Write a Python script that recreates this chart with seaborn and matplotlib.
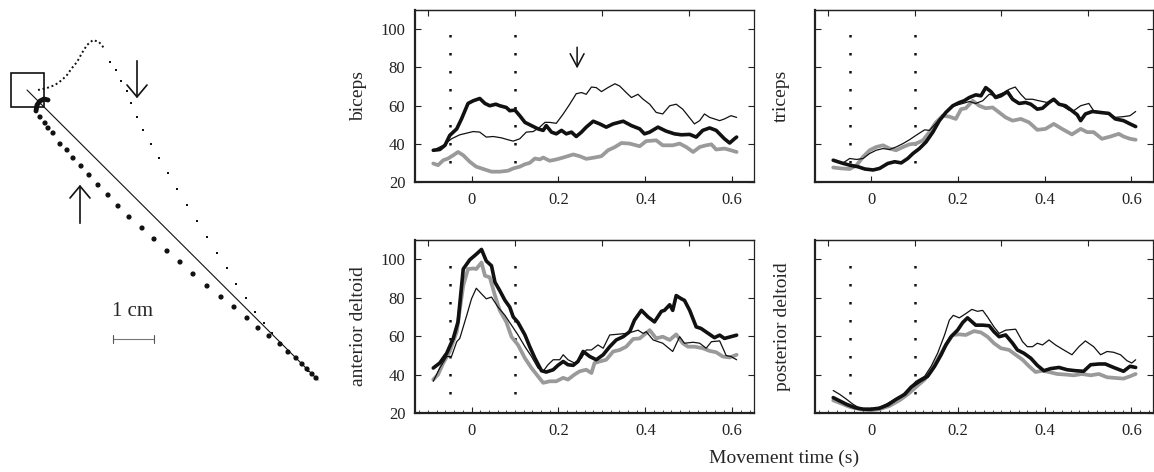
import matplotlib
matplotlib.use("Agg")
import matplotlib.pyplot as plt
import seaborn as sns
import pandas as pd

# ---------------- data ----------------
# EMG traces: (time s, activity) pairs per series
biceps_thick = [(-0.088,36.6),(-0.073,37),(-0.061,39.2),(-0.05,44.4),(-0.034,47.8),(-0.023,53),(-0.008,61.1),(0.004,62.5),(0.019,63.7),(0.031,61.1),(0.042,59.9),(0.056,60.7),(0.065,59.9),(0.08,59),(0.088,57.3),(0.1,57.6),(0.111,54.7),(0.123,51.2),(0.138,49.5),(0.153,47.8),(0.165,47),(0.172,49.5),(0.184,46.1),(0.195,45.2),(0.207,47),(0.218,45.2),(0.23,46.1),(0.241,43.8),(0.253,46.1),(0.264,48.7),(0.28,51.8),(0.295,50.4),(0.31,48.7),(0.326,50.4),(0.349,51.8),(0.368,49.5),(0.387,47.8),(0.398,45.2),(0.41,46.1),(0.429,48.7),(0.448,46.6),(0.467,45.2),(0.483,44.7),(0.502,44.9),(0.517,43.5),(0.532,47),(0.548,48.3),(0.563,47),(0.582,42.6),(0.594,40.4),(0.605,42.6),(0.61,43.5)]
biceps_thin = [(-0.088,36.6),(-0.065,39.2),(-0.046,42.6),(-0.027,44.7),(0.004,46.4),(0.019,46.1),(0.034,43.5),(0.05,43.8),(0.069,43.1),(0.084,42.1),(0.096,41.4),(0.111,42.6),(0.126,46.1),(0.142,46.4),(0.157,48.7),(0.169,51.2),(0.18,51.2),(0.195,50.7),(0.211,55.6),(0.226,60.7),(0.241,66.2),(0.253,66.8),(0.264,65.9),(0.276,69.7),(0.287,69.4),(0.299,67.3),(0.314,69.4),(0.33,71.4),(0.341,70.2),(0.356,66.8),(0.368,64.2),(0.383,65.9),(0.395,63.3),(0.41,60.7),(0.425,56.4),(0.44,55.6),(0.456,59.9),(0.471,60.7),(0.486,58.1),(0.498,54.7),(0.513,50.4),(0.525,52.1),(0.536,55.6),(0.548,53.8),(0.559,53),(0.571,52.1),(0.582,53),(0.597,54.7),(0.61,53.8)]
biceps_grey = [(-0.088,29.7),(-0.077,28.8),(-0.065,31.4),(-0.054,32.3),(-0.042,34),(-0.031,35.7),(-0.019,34),(-0.004,30.6),(0.011,28),(0.027,26.8),(0.046,25.4),(0.065,25.4),(0.084,25.9),(0.096,27.1),(0.111,28),(0.123,29.3),(0.134,30),(0.146,32.3),(0.157,31.8),(0.165,32.8),(0.18,31.1),(0.195,31.8),(0.211,32.8),(0.234,34.4),(0.249,33.5),(0.264,32.1),(0.283,32.8),(0.299,33.5),(0.314,36.6),(0.33,38.3),(0.345,40.4),(0.364,40.1),(0.387,38.7),(0.402,41.4),(0.425,41.8),(0.44,39.2),(0.463,39.2),(0.479,40.1),(0.494,38.3),(0.51,35.7),(0.525,38.3),(0.54,39.2),(0.552,39.7),(0.563,37),(0.582,37.5),(0.597,36.6),(0.61,35.7)]

triceps_thick = [(-0.088,31.4),(-0.069,30),(-0.05,28.8),(-0.031,28),(-0.015,26.8),(0.004,26.3),(0.019,27.1),(0.038,29.7),(0.054,30.6),(0.069,30),(0.084,32.3),(0.096,34.9),(0.111,37.5),(0.126,40.9),(0.142,46.1),(0.157,52.1),(0.172,56.4),(0.188,59.9),(0.203,61.6),(0.214,62.5),(0.226,64.2),(0.241,65.6),(0.253,65.1),(0.264,69.4),(0.276,67.3),(0.287,64.2),(0.299,65.1),(0.314,67.3),(0.326,63.3),(0.341,61.1),(0.356,61.6),(0.368,60.7),(0.383,58.1),(0.395,58.6),(0.41,61.6),(0.421,63.3),(0.433,60.7),(0.448,59.9),(0.463,57.3),(0.475,55.2),(0.483,52.1),(0.494,55.6),(0.51,56.9),(0.528,56.4),(0.548,55.9),(0.563,53),(0.582,52.1),(0.597,50.4),(0.61,49)]
triceps_thin = [(-0.088,31.1),(-0.065,30),(-0.05,32.3),(-0.034,31.8),(-0.019,32.3),(-0.004,34.9),(0.011,36.6),(0.027,37.5),(0.042,37),(0.057,38.3),(0.073,40.1),(0.088,42.1),(0.103,44.4),(0.123,47.3),(0.134,47),(0.146,50),(0.161,53.8),(0.176,57.6),(0.192,59.9),(0.211,61.1),(0.226,62.1),(0.241,61.1),(0.257,62.5),(0.272,65.9),(0.287,65.1),(0.306,66.8),(0.318,68.5),(0.332,69.7),(0.345,65.9),(0.356,63.3),(0.372,63.3),(0.387,62.5),(0.406,61.6),(0.421,62.5),(0.44,59.9),(0.456,57.6),(0.467,57.3),(0.483,59.9),(0.502,61.1),(0.513,57.3),(0.532,56.4),(0.548,55.6),(0.563,53.8),(0.582,54.2),(0.597,54.7),(0.61,56.9)]
triceps_grey = [(-0.088,27.6),(-0.069,27.1),(-0.05,26.8),(-0.034,28.8),(-0.019,33.2),(-0.004,36.6),(0.011,38.3),(0.027,39.2),(0.042,37.5),(0.057,36.6),(0.073,38.3),(0.088,39.7),(0.103,40.1),(0.119,41.8),(0.134,46.1),(0.149,51.2),(0.165,54.7),(0.18,54.2),(0.195,53),(0.207,58.1),(0.218,58.6),(0.234,62.5),(0.249,59.9),(0.264,58.6),(0.28,59),(0.295,56.4),(0.31,53.8),(0.326,52.1),(0.345,53),(0.364,51.2),(0.383,47.3),(0.402,47.8),(0.421,50.4),(0.44,47.8),(0.463,44.9),(0.483,47.8),(0.498,46.1),(0.513,46.1),(0.532,42.6),(0.552,43.8),(0.571,45.2),(0.582,43.8),(0.597,42.6),(0.61,42.1)]

antdelt_thick = [(-0.088,43.4),(-0.073,46),(-0.057,51.1),(-0.042,58.8),(-0.031,67.4),(-0.019,94.9),(-0.004,99.7),(0.011,102.6),(0.023,105.1),(0.034,99.1),(0.046,96.6),(0.054,88),(0.065,83.7),(0.077,78.6),(0.088,75.1),(0.096,70),(0.107,67.1),(0.123,60.6),(0.134,54.5),(0.146,48.5),(0.161,42),(0.172,41.3),(0.188,42.5),(0.199,44.8),(0.211,46.8),(0.222,45.1),(0.234,44.8),(0.245,46.8),(0.257,52),(0.272,49.4),(0.287,47.7),(0.303,50.3),(0.318,54.5),(0.333,58),(0.349,59.7),(0.364,62.3),(0.375,68.3),(0.391,73.4),(0.406,70),(0.421,67.4),(0.437,72.9),(0.444,73.4),(0.456,76.3),(0.463,73.4),(0.471,81.1),(0.483,79.4),(0.49,78.6),(0.502,73.4),(0.517,64.8),(0.528,64),(0.548,60.9),(0.559,59.2),(0.571,60.5),(0.582,58.8),(0.597,59.7),(0.61,60.5)]
antdelt_thin = [(-0.088,36.5),(-0.073,43.4),(-0.057,49.4),(-0.046,49.4),(-0.034,57.1),(-0.027,58.8),(-0.011,70.8),(0.0,79.4),(0.011,84.9),(0.023,82),(0.034,79.4),(0.046,80.3),(0.061,75.1),(0.077,70.8),(0.092,65.7),(0.107,60.6),(0.123,54.5),(0.138,49.4),(0.153,43.4),(0.165,41.7),(0.176,45.1),(0.188,47.7),(0.203,47.7),(0.211,50.3),(0.222,47.7),(0.237,46),(0.253,48.5),(0.264,52.8),(0.276,52.8),(0.291,55.4),(0.303,53.7),(0.318,60.6),(0.333,60.9),(0.356,61.4),(0.372,62.3),(0.383,63.1),(0.395,61.4),(0.402,62.3),(0.418,58),(0.44,56.3),(0.463,52),(0.479,59.7),(0.49,56.3),(0.51,56.8),(0.525,56.3),(0.54,53.7),(0.552,57.1),(0.571,57.5),(0.586,49.9),(0.597,49.4),(0.61,47.7)]
antdelt_grey = [(-0.088,37.4),(-0.077,40),(-0.065,46),(-0.05,52),(-0.034,62.3),(-0.019,86.3),(-0.008,94.9),(0.004,95.2),(0.011,94.9),(0.023,98.3),(0.031,91.4),(0.042,90.6),(0.054,81.1),(0.065,73.4),(0.08,67.4),(0.092,59.7),(0.107,55.4),(0.123,48.5),(0.138,43.4),(0.153,39.1),(0.165,35.7),(0.18,36.5),(0.195,36.5),(0.211,38.3),(0.222,37.4),(0.237,40),(0.249,41.7),(0.264,42.5),(0.276,40.8),(0.283,46),(0.295,46.8),(0.31,47.7),(0.326,52),(0.341,52.8),(0.356,54.5),(0.372,58.5),(0.387,58.8),(0.41,63.1),(0.425,58.8),(0.44,59.7),(0.456,58),(0.471,60.9),(0.486,56.3),(0.498,54.5),(0.513,54.5),(0.532,53.7),(0.548,52.3),(0.563,51.6),(0.578,49.4),(0.594,48.9),(0.61,50.3)]

postdelt_thick = [(-0.088,28),(-0.073,26.3),(-0.057,24.5),(-0.038,22.8),(-0.019,22),(0.0,22),(0.019,22.5),(0.038,24.2),(0.057,27.1),(0.077,29.7),(0.092,33.5),(0.111,36.5),(0.13,39.1),(0.146,44.3),(0.161,50.3),(0.172,55.4),(0.184,59.7),(0.199,63.1),(0.211,67.1),(0.222,69.5),(0.234,67.1),(0.241,65.7),(0.257,65.7),(0.272,65.4),(0.283,62.3),(0.295,59.7),(0.31,60.6),(0.326,56.3),(0.337,52.8),(0.352,51.1),(0.368,48.5),(0.383,44.8),(0.398,42),(0.414,43.1),(0.433,43.7),(0.452,42.5),(0.471,42),(0.49,41.7),(0.506,45.1),(0.525,45.5),(0.54,45.5),(0.559,43.7),(0.582,41.7),(0.597,44.3),(0.61,43.7)]
postdelt_thin = [(-0.088,31.7),(-0.073,29.7),(-0.057,27.1),(-0.042,24.5),(-0.027,22.5),(-0.008,21.4),(0.011,22.3),(0.031,24.2),(0.05,26.6),(0.069,28.8),(0.088,33.1),(0.103,36.5),(0.123,39.1),(0.138,44.3),(0.153,51.1),(0.169,60.6),(0.18,68.3),(0.189,70.8),(0.203,69.5),(0.218,71.7),(0.232,73.9),(0.245,72.9),(0.257,73.4),(0.268,70),(0.283,64.8),(0.295,61.4),(0.31,63.1),(0.333,63.6),(0.349,57.1),(0.36,54.5),(0.372,54.5),(0.383,56.3),(0.395,55.4),(0.41,58),(0.425,55.4),(0.444,52.8),(0.463,50.3),(0.479,54.5),(0.494,57.5),(0.513,54.5),(0.529,50.3),(0.544,52),(0.559,51.6),(0.575,50.3),(0.59,47.2),(0.601,46),(0.61,47.7)]
postdelt_grey = [(-0.088,26.6),(-0.069,24.9),(-0.05,23.2),(-0.027,22),(-0.004,21.4),(0.019,22),(0.042,23.7),(0.065,26.6),(0.084,29.7),(0.103,33.5),(0.123,37.4),(0.142,43.4),(0.157,49.4),(0.172,55.4),(0.188,60.6),(0.203,60.9),(0.218,60.6),(0.237,62.6),(0.253,61.9),(0.268,59.7),(0.283,56.3),(0.299,53.7),(0.318,52.8),(0.333,50.3),(0.349,47.7),(0.364,44.3),(0.379,41.3),(0.395,42),(0.41,41.3),(0.429,40.3),(0.448,40),(0.467,39.6),(0.486,40.3),(0.506,39.6),(0.525,40.3),(0.544,38.6),(0.559,38.3),(0.582,37.9),(0.597,39.1),(0.61,40.3)]

muscles = ["biceps", "triceps", "anterior deltoid", "posterior deltoid"]
xticks = [0, 0.2, 0.4, 0.6]
xtick_labels = ["0", "0.2", "0.4", "0.6"]
yticks = [20, 40, 60, 80, 100]
ytick_labels = ["20", "40", "60", "80", "100"]
top_ticks = [-0.1, 0.1, 0.3, 0.5]
event_times = [-0.05, 0.1]

# Trajectory sketch (left panel), in drawing units (pixel-like)
start_box = (11, 73, 33, 34)          # x, y, w, h
straight_path_x = [27, 318]
straight_path_y = [90, 380]
loop_dense_x = [38, 47, 55, 62, 67, 72, 77, 82, 87, 93, 99, 104]
loop_dense_y = [90, 88, 85, 80, 75, 68, 62, 53, 45, 40, 42, 48]
loop_dots_x = [110, 116, 121, 127, 131, 137, 143, 151, 159, 168, 177, 187, 197, 207, 217, 227, 236, 246, 255, 264, 272, 280, 287, 295, 302, 308, 315]
loop_dots_y = [62, 70, 81, 91, 103, 117, 130, 144, 158, 173, 189, 205, 221, 237, 253, 268, 284, 298, 312, 323, 333, 343, 352, 358, 365, 371, 377]
low_dots_x = [40, 45, 48, 53, 60, 67, 73, 81, 89, 98, 108, 118, 129, 142, 154, 167, 180, 193, 207, 221, 234, 247, 258, 269, 280, 288, 296, 302, 307, 312, 316]
low_dots_y = [117, 123, 128, 133, 144, 150, 158, 166, 175, 185, 195, 206, 217, 228, 239, 251, 262, 274, 286, 297, 307, 318, 328, 336, 344, 352, 358, 364, 369, 374, 378]
hook_x = [36, 37, 40, 44, 48]
hook_y = [111, 105, 101, 99, 100]
scale_bar_x = [113, 154]
scale_bar_y = 339

# ---------------- style ----------------
sns.set_theme(style="white")
plt.rcParams["font.family"] = ["Liberation Serif", "DejaVu Serif"]
plt.rcParams["axes.edgecolor"] = "#222222"

W, H = 1154, 472
fig = plt.figure(figsize=(W / 100, H / 100), dpi=100)
fig.patch.set_facecolor("white")

def frac(x0, y0, x1, y1):
    return [x0 / W, 1 - y1 / H, (x1 - x0) / W, (y1 - y0) / H]

panel_boxes = [frac(415, 10, 754, 182), frac(815, 10, 1153, 182),
               frac(415, 240, 754, 413), frac(815, 240, 1153, 413)]
label_x = [-0.142, -0.074, -0.142, -0.071]
series = [(biceps_thick, biceps_thin, biceps_grey),
          (triceps_thick, triceps_thin, triceps_grey),
          (antdelt_thick, antdelt_thin, antdelt_grey),
          (postdelt_thick, postdelt_thin, postdelt_grey)]

axes = []
for i, (box, name, (thk, thn, gry)) in enumerate(zip(panel_boxes, muscles, series)):
    ax = fig.add_axes(box)
    axes.append(ax)
    for data, col, lw, z in [(gry, "#9a9a9a", 2.7, 2), (thn, "#111111", 0.9, 3), (thk, "#111111", 2.6, 4)]:
        df = pd.DataFrame(data, columns=["t", "v"])
        sns.lineplot(data=df, x="t", y="v", ax=ax, color=col, linewidth=lw,
                     sort=False, estimator=None, zorder=z)
    ax.vlines(event_times, 30, 105, colors="#111111", linewidth=1.8,
              linestyles=(0, (1, 6.2)), zorder=1)
    ax.set_xlim(-0.13, 0.65)
    ax.set_ylim(20, 110)
    ax.set_xticks(xticks)
    ax.set_yticks(yticks)
    ax.set_xlabel("")
    ax.set_ylabel(name, fontsize=14)
    ax.yaxis.set_label_coords(label_x[i], 0.5)
    if i % 2 == 0:
        ax.set_yticklabels(ytick_labels, fontsize=12)
    else:
        ax.set_yticklabels([])
    ax.set_xticklabels(xtick_labels, fontsize=12)
    ax.tick_params(direction="in", length=4, width=0.8, right=True, top=False,
                   bottom=True, left=True, pad=7, colors="#222222")
    if i >= 2:
        ax.set_xticks([x / 100 for x in range(-12, 66, 2)], minor=True)
        ax.tick_params(which="minor", direction="in", length=2, width=0.6, bottom=True)
    sec = ax.secondary_xaxis("top")
    sec.set_xticks(top_ticks)
    sec.set_xticklabels([])
    sec.tick_params(direction="in", length=4, width=0.8, colors="#222222")
    sec.spines["top"].set_linewidth(0.9)
    for s in ["left", "bottom"]:
        ax.spines[s].set_linewidth(1.6)
    for s in ["top", "right"]:
        ax.spines[s].set_linewidth(0.9)
    ax.set_facecolor("white")

axes[0].annotate("", xy=(0.243, 78), xytext=(0.243, 92),
                 arrowprops=dict(arrowstyle="->,head_length=0.47,head_width=0.25",
                                 lw=1.1, color="#111111", mutation_scale=20))

fig.text(784 / W, 1 - 458 / H, "Movement time (s)", ha="center", va="center", fontsize=14)

# ---------------- left trajectory panel ----------------
axl = fig.add_axes([0, 0, 340 / W, 1])
axl.set_xlim(0, 340)
axl.set_ylim(472, 0)
axl.axis("off")
axl.add_patch(plt.Rectangle(start_box[:2], start_box[2], start_box[3], fill=False,
                            edgecolor="#111111", linewidth=1.2))
sns.lineplot(x=straight_path_x, y=straight_path_y, ax=axl, color="#111111",
             linewidth=0.8, sort=False, estimator=None)
sns.lineplot(x=loop_dense_x, y=loop_dense_y, ax=axl, color="#111111", linewidth=1.4,
             sort=False, estimator=None, linestyle=(0, (1, 1.4)))
sns.scatterplot(x=loop_dots_x, y=loop_dots_y, ax=axl, color="#111111", s=2.5,
                marker="s", edgecolor="none")
sns.scatterplot(x=low_dots_x, y=low_dots_y, ax=axl, color="#111111", s=14,
                edgecolor="none")
sns.lineplot(x=hook_x, y=hook_y, ax=axl, color="#111111", linewidth=3.5,
             sort=False, estimator=None)
axl.annotate("", xy=(137, 101), xytext=(137, 58),
             arrowprops=dict(arrowstyle="->,head_length=0.43,head_width=0.36",
                             lw=1.2, color="#111111", mutation_scale=20))
axl.annotate("", xy=(80, 182), xytext=(80, 226),
             arrowprops=dict(arrowstyle="->,head_length=0.43,head_width=0.36",
                             lw=1.2, color="#111111", mutation_scale=20))
axl.text(133, 312, "1 cm", ha="center", va="center", fontsize=15)
axl.plot(scale_bar_x, [scale_bar_y, scale_bar_y], color="#777777", linewidth=0.8)
axl.plot([scale_bar_x[0]] * 2, [scale_bar_y - 4, scale_bar_y + 4], color="#555555", linewidth=0.8)
axl.plot([scale_bar_x[1]] * 2, [scale_bar_y - 4, scale_bar_y + 4], color="#555555", linewidth=0.8)
axl.set_xlabel("")
axl.set_ylabel("")

fig.savefig("out.png", dpi=100, facecolor="white")
